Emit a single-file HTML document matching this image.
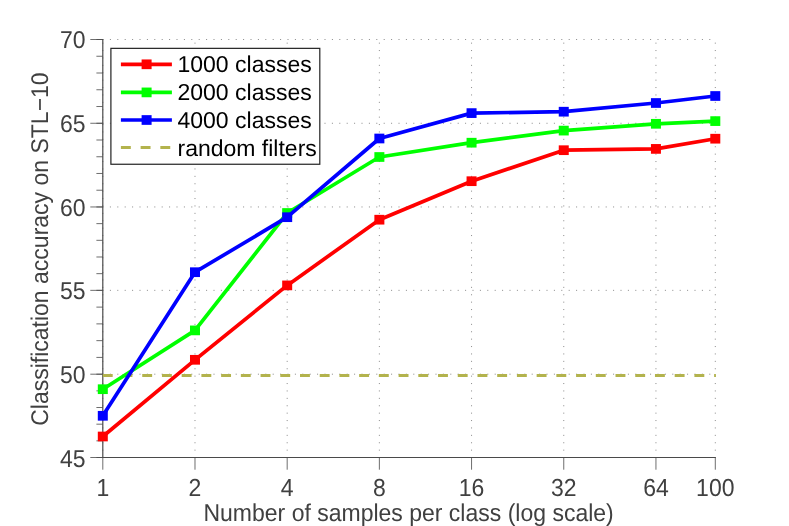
<!DOCTYPE html>
<html><head><meta charset="utf-8"><title>chart</title>
<style>
html,body{margin:0;padding:0;background:#fff;}
body{width:789px;height:526px;overflow:hidden;}
svg{display:block;will-change:transform;text-rendering:geometricPrecision;}
text{font-family:"Liberation Sans",sans-serif;font-size:23.0px;}
.t{fill:#404040;}
.l{fill:#000;}
.g{stroke:#8a8a8a;stroke-width:1;stroke-dasharray:1 6.4;fill:none;}
.a{stroke:#4a4a4a;stroke-width:1.2;fill:none;}
.k{stroke:#4a4a4a;stroke-width:1;stroke-opacity:0.8;fill:none;}
</style></head><body>
<svg width="789" height="526" viewBox="0 0 789 526">
<rect width="789" height="526" fill="#fff"/>
<path class="g" d="M102.5 457.50H716"/>
<path class="g" d="M102.5 374.19H716"/>
<path class="g" d="M102.5 290.35H716"/>
<path class="g" d="M102.5 206.96H716"/>
<path class="g" d="M102.5 123.27H716"/>
<path class="g" d="M102.5 39.50H716"/>
<path class="g" d="M102.80 458.05V39"/>
<path class="g" d="M194.99 458.05V39"/>
<path class="g" d="M287.18 458.05V39"/>
<path class="g" d="M379.37 458.05V39"/>
<path class="g" d="M471.56 458.05V39"/>
<path class="g" d="M563.75 458.05V39"/>
<path class="g" d="M655.94 458.05V39"/>
<path class="g" d="M715.30 458.05V39"/>
<path class="a" d="M102.8 39.00V457.5M102.3 457.5H715.75"/>
<path class="k" d="M96.40 457.50H102.8M90.30 457.50H102.8M96.40 440.84H102.8M96.40 424.18H102.8M96.40 407.51H102.8M96.40 390.85H102.8M96.40 374.19H102.8M90.30 374.19H102.8M96.40 357.42H102.8M96.40 340.65H102.8M96.40 323.89H102.8M96.40 307.12H102.8M96.40 290.35H102.8M90.30 290.35H102.8M96.40 273.67H102.8M96.40 256.99H102.8M96.40 240.32H102.8M96.40 223.64H102.8M96.40 206.96H102.8M90.30 206.96H102.8M96.40 190.22H102.8M96.40 173.48H102.8M96.40 156.75H102.8M96.40 140.01H102.8M96.40 123.27H102.8M90.30 123.27H102.8M96.40 106.52H102.8M96.40 89.76H102.8M96.40 73.01H102.8M96.40 56.25H102.8M96.40 39.50H102.8M90.30 39.50H102.8M102.80 457.5V469.7M194.99 457.5V469.7M287.18 457.5V469.7M379.37 457.5V469.7M471.56 457.5V469.7M563.75 457.5V469.7M655.94 457.5V469.7M715.30 457.5V469.7"/>
<text class="t" transform="translate(85.6 467) scale(1 1.06)" text-anchor="end">45</text>
<text class="t" transform="translate(85.6 383) scale(1 1.06)" text-anchor="end">50</text>
<text class="t" transform="translate(85.6 299) scale(1 1.06)" text-anchor="end">55</text>
<text class="t" transform="translate(85.6 216) scale(1 1.06)" text-anchor="end">60</text>
<text class="t" transform="translate(85.6 132) scale(1 1.06)" text-anchor="end">65</text>
<text class="t" transform="translate(85.6 48) scale(1 1.06)" text-anchor="end">70</text>
<text class="t" transform="translate(102.80 496) scale(1 1.07)" text-anchor="middle">1</text>
<text class="t" transform="translate(194.99 496) scale(1 1.07)" text-anchor="middle">2</text>
<text class="t" transform="translate(287.18 496) scale(1 1.07)" text-anchor="middle">4</text>
<text class="t" transform="translate(379.37 496) scale(1 1.07)" text-anchor="middle">8</text>
<text class="t" transform="translate(471.56 496) scale(1 1.07)" text-anchor="middle">16</text>
<text class="t" transform="translate(563.75 496) scale(1 1.07)" text-anchor="middle">32</text>
<text class="t" transform="translate(655.94 496) scale(1 1.07)" text-anchor="middle">64</text>
<text class="t" transform="translate(715.30 496) scale(1 1.07)" text-anchor="middle">100</text>
<text class="t" transform="translate(408.6 521) scale(1 1.06)" text-anchor="middle">Number of samples per class (log scale)</text>
<text class="t" transform="translate(47.9 249.1) rotate(-90) scale(1 1.05)" text-anchor="middle">Classification accuracy on STL−10</text>
<path d="M102.8 375.4H715.9" stroke="#b3b34d" stroke-width="3" stroke-dasharray="9.9 9.82" fill="none"/>
<polyline points="102.80,436.50 194.99,359.80 287.18,285.40 379.37,219.70 471.56,181.20 563.75,150.20 655.94,148.90 715.30,138.70" fill="none" stroke="#ff0000" stroke-width="3.7" stroke-linejoin="round"/>
<rect x="97.80" y="431.65" width="10.0" height="9.7" fill="#ff0000"/>
<rect x="189.99" y="354.95" width="10.0" height="9.7" fill="#ff0000"/>
<rect x="282.18" y="280.55" width="10.0" height="9.7" fill="#ff0000"/>
<rect x="374.37" y="214.85" width="10.0" height="9.7" fill="#ff0000"/>
<rect x="466.56" y="176.35" width="10.0" height="9.7" fill="#ff0000"/>
<rect x="558.75" y="145.35" width="10.0" height="9.7" fill="#ff0000"/>
<rect x="650.94" y="144.05" width="10.0" height="9.7" fill="#ff0000"/>
<rect x="710.30" y="133.85" width="10.0" height="9.7" fill="#ff0000"/>
<polyline points="102.80,389.20 194.99,330.40 287.18,213.00 379.37,157.00 471.56,142.70 563.75,130.60 655.94,123.80 715.30,121.10" fill="none" stroke="#00ff00" stroke-width="3.7" stroke-linejoin="round"/>
<rect x="97.80" y="384.35" width="10.0" height="9.7" fill="#00ff00"/>
<rect x="189.99" y="325.55" width="10.0" height="9.7" fill="#00ff00"/>
<rect x="282.18" y="208.15" width="10.0" height="9.7" fill="#00ff00"/>
<rect x="374.37" y="152.15" width="10.0" height="9.7" fill="#00ff00"/>
<rect x="466.56" y="137.85" width="10.0" height="9.7" fill="#00ff00"/>
<rect x="558.75" y="125.75" width="10.0" height="9.7" fill="#00ff00"/>
<rect x="650.94" y="118.95" width="10.0" height="9.7" fill="#00ff00"/>
<rect x="710.30" y="116.25" width="10.0" height="9.7" fill="#00ff00"/>
<polyline points="102.80,415.80 194.99,272.20 287.18,217.20 379.37,138.50 471.56,113.10 563.75,111.70 655.94,103.00 715.30,96.00" fill="none" stroke="#0000ff" stroke-width="3.7" stroke-linejoin="round"/>
<rect x="97.80" y="410.95" width="10.0" height="9.7" fill="#0000ff"/>
<rect x="189.99" y="267.35" width="10.0" height="9.7" fill="#0000ff"/>
<rect x="282.18" y="212.35" width="10.0" height="9.7" fill="#0000ff"/>
<rect x="374.37" y="133.65" width="10.0" height="9.7" fill="#0000ff"/>
<rect x="466.56" y="108.25" width="10.0" height="9.7" fill="#0000ff"/>
<rect x="558.75" y="106.85" width="10.0" height="9.7" fill="#0000ff"/>
<rect x="650.94" y="98.15" width="10.0" height="9.7" fill="#0000ff"/>
<rect x="710.30" y="91.15" width="10.0" height="9.7" fill="#0000ff"/>
<rect x="110.9" y="48.35" width="208.9" height="115.9" fill="#fff" stroke="#222" stroke-width="1.2"/>
<path d="M120.9 64.3H171.9" stroke="#ff0000" stroke-width="3.7"/>
<rect x="141.60" y="59.45" width="10.0" height="9.7" fill="#ff0000"/>
<path d="M120.9 92.4H171.9" stroke="#00ff00" stroke-width="3.7"/>
<rect x="141.60" y="87.55" width="10.0" height="9.7" fill="#00ff00"/>
<path d="M120.9 120.0H171.9" stroke="#0000ff" stroke-width="3.7"/>
<rect x="141.60" y="115.15" width="10.0" height="9.7" fill="#0000ff"/>
<path d="M120.9 147.6H171.9" stroke="#b3b34d" stroke-width="3" stroke-dasharray="9.9 9.82"/>
<text class="l" x="177.5" y="72.00">1000 classes</text>
<text class="l" x="177.5" y="100.05">2000 classes</text>
<text class="l" x="177.5" y="128.15">4000 classes</text>
<text class="l" x="177.5" y="155.50">random filters</text>
</svg></body></html>
